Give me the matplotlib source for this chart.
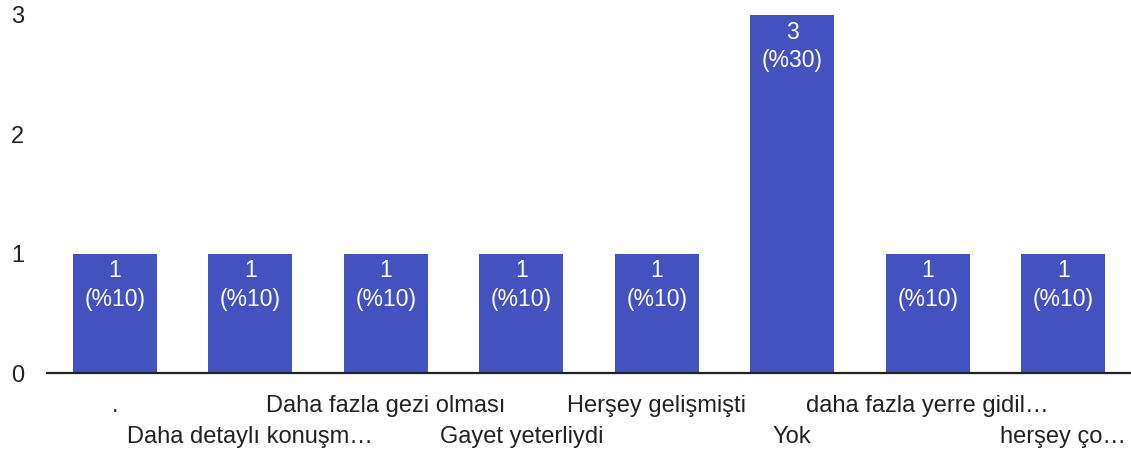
"""Bar chart of survey answers (Google Forms style)."""

import matplotlib
matplotlib.use("Agg")
import matplotlib.pyplot as plt

# We keep the data near the top
answers = [".", "Daha detaylı konuşm…", "Daha fazla gezi olması", "Gayet yeterliydi",
           "Herşey gelişmişti", "Yok", "daha fazla yerre gidil…", "herşey ço…"]
counts = [1, 1, 1, 1, 1, 3, 1, 1]
percents = [10, 10, 10, 10, 10, 30, 10, 10]
y_ticks = [0, 1, 2, 3]

bar_color = "#4352bf"
text_color = "#222222"

plt.rcParams["font.family"] = ["Liberation Sans", "DejaVu Sans"]

fig = plt.figure(figsize=(11.31, 4.53), dpi=100)
ax = fig.add_axes([0.0416, 0.1766, 0.9584, 0.7904])

x = list(range(len(answers)))
bars = ax.bar(x, counts, width=0.62, color=bar_color)

# We write the count and percent inside each bar, near the top
for rect, c, p in zip(bars, counts, percents):
    ax.annotate(f"{c}\n(%{p})", xy=(rect.get_x() + rect.get_width() / 2, rect.get_height()),
                xytext=(0, -4), textcoords="offset points", ha="center", va="top",
                color="white", fontsize=16.5, linespacing=1.3)

ax.set_xlim(-0.5, len(answers) - 0.5)
ax.set_ylim(0, 3)
ax.set_yticks(y_ticks)
ax.set_yticklabels([str(t) for t in y_ticks], fontsize=17, color=text_color, ha="left")
ax.tick_params(axis="y", length=0, pad=26)

ax.set_xticks(x)
ax.set_xticklabels(answers, fontsize=17, color=text_color)
ax.tick_params(axis="x", length=0)
# The labels alternate between two rows
for i, tick in enumerate(ax.xaxis.get_major_ticks()):
    tick.set_pad(16 if i % 2 == 0 else 38)

for side in ["top", "right", "left"]:
    ax.spines[side].set_visible(False)
ax.spines["bottom"].set_linewidth(1.6)
ax.spines["bottom"].set_color("#222222")

fig.savefig("out.png", dpi=100)
